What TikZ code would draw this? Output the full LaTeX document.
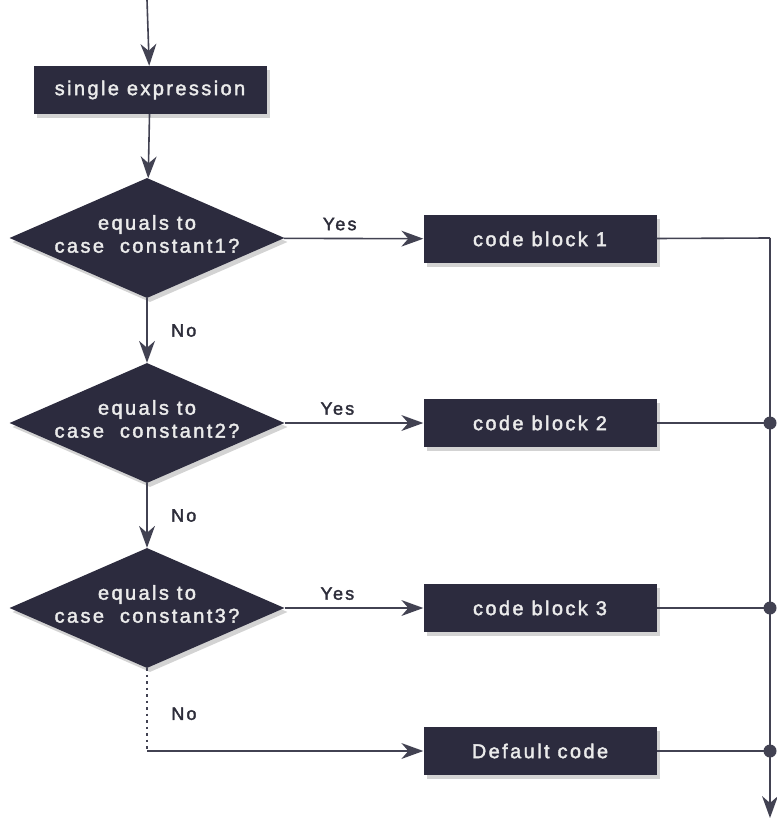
\documentclass[tikz,border=0pt]{standalone}
\usepackage{fontspec}
\setmainfont{Liberation Sans}
\newfontfamily\flowfont[LetterSpace=12,FakeBold=2]{Liberation Sans}
\usepackage{tikz}
\usetikzlibrary{arrows.meta,shapes.geometric,shadows,positioning}
\definecolor{boxnavy}{RGB}{44,43,62}
\definecolor{linegray}{RGB}{66,66,82}
\definecolor{labelgray}{RGB}{45,45,58}
\tikzset{
    block/.style={rectangle, fill=boxnavy, minimum width=233pt, minimum height=48pt,
        text=white!92!black, font=\flowfont\fontsize{20}{24}\selectfont,
        drop shadow={shadow xshift=3pt, shadow yshift=-4pt, opacity=0.35}},
    decision/.style={diamond, fill=boxnavy, minimum width=275pt, minimum height=120pt,
        inner sep=0pt, aspect=2.29,
        drop shadow={shadow xshift=3pt, shadow yshift=-4pt, opacity=0.35},
        label={[text=white!92!black, align=center, yshift=4pt, font=\flowfont\fontsize{20}{23}\selectfont]center:#1}},
    flow/.style={draw=linegray, line width=1.6pt},
    arrowflow/.style={flow, -{Stealth[length=22pt,width=16pt,inset=7pt,line width=0pt]}},
    answer/.style={text=labelgray, font=\flowfont\fontsize{18}{20}\selectfont},
    joint/.style={fill=linegray, draw=none}
}

\begin{document}
\begin{tikzpicture}[x=1pt, y=-1pt]
                        \useasboundingbox (0,0) rectangle (776,818);

                        % main column
                        \coordinate (start) at (147,0);
                        \node[block] (expr) at (150,90) {single expression};
                        \node[decision={equals to\\case\ \ constant1?}] (q1) at (147,238) {};
                        \node[decision={equals to\\case\ \ constant2?}] (q2) at (147,423) {};
                        \node[decision={equals to\\case\ \ constant3?}] (q3) at (147,608) {};
                        \coordinate (corner) at (147,751);

                        % code blocks
                        \node[block] (b1) at (540,239) {code block 1};
                        \node[block] (b2) at (540,423) {code block 2};
                        \node[block] (b3) at (540,608) {code block 3};
                        \node[block] (bdef) at (540,751) {Default code};

                        % right rail
                        \coordinate (j1) at (770,238);
                        \coordinate (j2) at (770,423);
                        \coordinate (j3) at (770,608);
                        \coordinate (jdef) at (770,751);
                        \coordinate (finish) at (770,818);

                        \draw[arrowflow] (start) -- (expr);
                        \draw[arrowflow] (expr) -- (q1);
                        \draw[arrowflow] (q1) -- node[answer, right=20pt] {No} (q2);
                        \draw[arrowflow] (q2) -- node[answer, right=20pt] {No} (q3);
                        \draw[flow, line width=2pt, dash pattern=on 2.5pt off 4pt] (q3) -- node[answer, right=20pt, pos=0.55] {No} (corner);
                        \draw[arrowflow] (corner) -- (bdef);

                        \draw[arrowflow] (q1) -- node[answer, above=4pt, pos=0.4] {Yes} (b1);
                        \draw[arrowflow] (q2) -- node[answer, above=4pt, pos=0.38] {Yes} (b2);
                        \draw[arrowflow] (q3) -- node[answer, above=4pt, pos=0.38] {Yes} (b3);

                        \draw[flow] (b1) -- (j1);
                        \draw[arrowflow, line width=2.4pt] (j1) -- (finish);
                        \draw[flow] (b2) -- (j2);
                        \draw[flow] (b3) -- (j3);
                        \draw[flow] (bdef) -- (jdef);
                        \foreach \j in {j2,j3,jdef}
                        {
                        \fill[joint] (\j) circle (6.5pt);
                        }
                    \end{tikzpicture}
\end{document}
